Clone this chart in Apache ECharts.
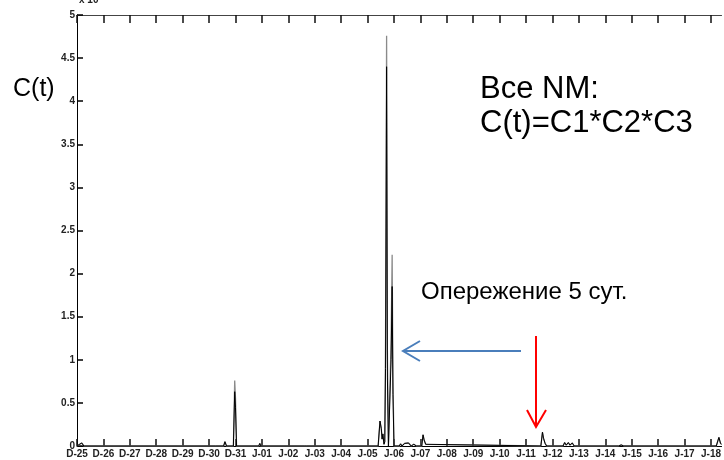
<!DOCTYPE html>
<html>
<head>
<meta charset="utf-8">
<script src="https://cdn.jsdelivr.net/npm/echarts@6/dist/echarts.min.js"></script>
<style>
  html, body { margin: 0; padding: 0; background: #fff; }
  #chart { width: 724px; height: 460px; }
</style>
</head>
<body>
<div id="chart"></div>
<script>
// day labels along the bottom axis (one per day, from D-25)
const dayLabels = ['D-25', 'D-26', 'D-27', 'D-28', 'D-29', 'D-30', 'D-31',
  'J-01', 'J-02', 'J-03', 'J-04', 'J-05', 'J-06', 'J-07', 'J-08', 'J-09', 'J-10',
  'J-11', 'J-12', 'J-13', 'J-14', 'J-15', 'J-16', 'J-17', 'J-18']

// time in days from D-25
const t = [0, 0.1, 0.18, 0.26, 3.9, 3.95, 4.0, 5.15, 5.2, 5.25,
  5.55, 5.6, 5.66, 5.92, 5.97, 6.0, 6.04, 6.88, 6.92, 6.96,
  8.6, 8.65, 8.7, 10.1, 10.15, 10.2, 11.4, 11.47, 11.52, 11.55,
  11.58, 11.62, 11.65, 11.68, 11.72, 11.75, 11.79, 11.86, 11.89, 11.93,
  11.96, 12.0, 12.2, 12.25, 12.3, 12.4, 12.45, 12.55, 12.65, 12.75,
  12.85, 13.05, 13.1, 13.14, 13.2, 13.26, 17.56, 17.62, 17.66, 17.72,
  17.78, 18.4, 18.46, 18.52, 18.6, 18.66, 18.75, 18.82, 20.5, 20.6,
  20.7, 24.2, 24.3, 24.36, 24.4]

// C(t), grey trace (envelope)
const cGray = [0, 0.02, 0.035, 0, 0, 0.015, 0, 0, 0.02, 0,
  0, 0.05, 0, 0, 0.76, 0.55, 0, 0, 0.03, 0,
  0, 0.01, 0, 0, 0.01, 0, 0, 0.29, 0.2, 0.08,
  0.14, 0.02, 0.05, 1.22, 4.76, 1.1, 0, 0, 1.22, 2.22,
  0.8, 0, 0, 0.025, 0, 0.03, 0.01, 0.035, 0, 0.02,
  0, 0, 0.13, 0.07, 0.02, 0, 0, 0.16, 0.09, 0.03,
  0, 0, 0.04, 0.01, 0.04, 0.01, 0.035, 0, 0, 0.012,
  0, 0, 0.1, 0.03, 0.02]

// C(t), black trace
const cBlack = [0, 0.02, 0.035, 0, 0, 0.015, 0, 0, 0.02, 0,
  0, 0.05, 0, 0, 0.63, 0.45, 0, 0, 0.03, 0,
  0, 0.01, 0, 0, 0.01, 0, 0, 0.29, 0.2, 0.08,
  0.14, 0.02, 0.05, 0.9, 4.4, 0.8, 0, 0, 1.0, 1.85,
  0.6, 0, 0, 0.025, 0, 0.03, 0.01, 0.035, 0, 0.02,
  0, 0, 0.13, 0.07, 0.02, 0, 0, 0.16, 0.09, 0.03,
  0, 0, 0.04, 0.01, 0.04, 0.01, 0.035, 0, 0, 0.012,
  0, 0, 0.1, 0.03, 0.02]

const dayTicks = dayLabels.map((_, i) => i)

const chart = echarts.init(document.getElementById('chart'), null, { renderer: 'canvas' })

const tickFont = { fontFamily: 'Liberation Sans', fontSize: 10, fontWeight: 'bold', color: '#222' }

chart.setOption({
  animation: false,
  grid: { left: 77, right: 0, top: 15, bottom: 14 },
  xAxis: [{
    type: 'value',
    min: 0,
    max: 24.4,
    interval: 1,
    axisLine: { show: true, onZero: false, lineStyle: { color: '#000', width: 1 } },
    axisTick: { show: true, inside: true, length: 7, customValues: dayTicks, lineStyle: { color: '#111', width: 1.5 } },
    axisLabel: Object.assign({
      margin: 3,
      customValues: dayTicks,
      formatter: v => dayLabels[Math.round(v)] || ''
    }, tickFont),
    splitLine: { show: false }
  }, {
    type: 'value',
    position: 'top',
    min: 0,
    max: 24.4,
    interval: 1,
    axisLine: { show: true, onZero: false, lineStyle: { color: '#444', width: 1 } },
    axisTick: { show: true, inside: true, length: 8, customValues: dayTicks, lineStyle: { color: '#111', width: 1.5 } },
    axisLabel: { show: false },
    splitLine: { show: false }
  }],
  yAxis: {
    type: 'value',
    min: 0,
    max: 5,
    interval: 0.5,
    axisLine: { show: true, lineStyle: { color: '#000', width: 1 } },
    axisTick: { show: true, inside: true, length: 6, lineStyle: { color: '#000', width: 1.5 } },
    axisLabel: Object.assign({ margin: 2 }, tickFont),
    splitLine: { show: false }
  },
  series: [{
    type: 'line',
    data: t.map((x, i) => [x, cGray[i]]),
    symbol: 'none',
    lineStyle: { color: '#8a8a8a', width: 1.3 },
    z: 2
  }, {
    type: 'line',
    data: t.map((x, i) => [x, cBlack[i]]),
    symbol: 'none',
    lineStyle: { color: '#000', width: 1 },
    z: 3
  }],
  graphic: [
    { type: 'text', left: 79, top: -5, style: { text: 'x 10', font: 'bold 10px "Liberation Sans"', fill: '#222' } },
    { type: 'text', left: 13, top: 77, style: { text: 'C(t)', font: '25px "Liberation Sans"', fill: '#000' } },
    { type: 'text', left: 480, top: 72, style: { text: 'Все NM:\nC(t)=C1*C2*C3', font: '31px "Liberation Sans"', lineHeight: 34, fill: '#000' } },
    { type: 'text', left: 421, top: 280, style: { text: 'Опережение 5 сут.', font: '24px "Liberation Sans"', fill: '#000' } },
    // blue arrow, pointing left
    { type: 'polyline', shape: { points: [[521, 351], [403, 351]] }, style: { stroke: '#4A7EBB', lineWidth: 2 } },
    { type: 'polyline', shape: { points: [[420, 341], [403, 351], [420, 361]] }, style: { stroke: '#4A7EBB', lineWidth: 2, fill: null } },
    // red arrow, pointing down
    { type: 'polyline', shape: { points: [[536, 336], [536, 427]] }, style: { stroke: '#FF0000', lineWidth: 2 } },
    { type: 'polyline', shape: { points: [[527, 410], [536, 427], [546, 410]] }, style: { stroke: '#FF0000', lineWidth: 2, fill: null } }
  ]
})
</script>
</body>
</html>
